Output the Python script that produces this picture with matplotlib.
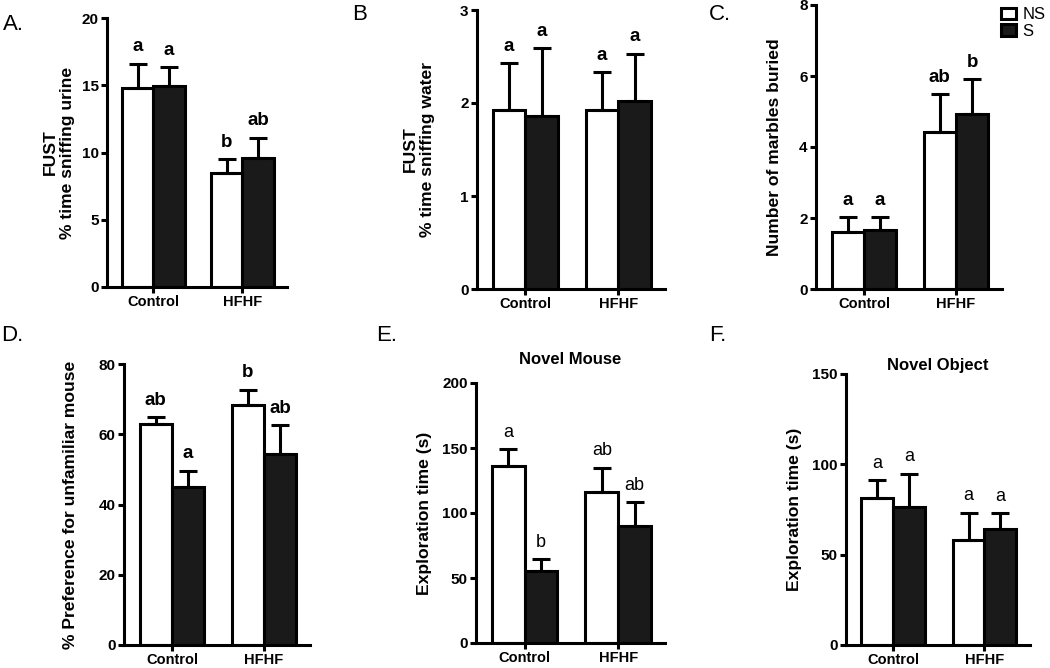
import numpy as np
import matplotlib
matplotlib.use('Agg')
import matplotlib.pyplot as plt
from matplotlib.patches import Patch

plt.rcParams['font.family'] = ['Liberation Sans', 'DejaVu Sans']

groups = ['Control', 'HFHF']

# A. FUST urine
a_ns = [14.8, 8.5]
a_ns_err = [1.8, 1.0]
a_s = [14.95, 9.6]
a_s_err = [1.4, 1.5]
a_ns_let = ['a', 'b']
a_s_let = ['a', 'ab']

# B. FUST water
b_ns = [1.93, 1.92]
b_ns_err = [0.50, 0.41]
b_s = [1.86, 2.02]
b_s_err = [0.73, 0.51]
b_ns_let = ['a', 'a']
b_s_let = ['a', 'a']

# C. marbles
c_ns = [1.6, 4.42]
c_ns_err = [0.42, 1.06]
c_s = [1.65, 4.93]
c_s_err = [0.38, 0.99]
c_ns_let = ['a', 'ab']
c_s_let = ['a', 'b']

# D. preference
d_ns = [62.8, 68.3]
d_ns_err = [2.0, 4.4]
d_s = [45.0, 54.5]
d_s_err = [4.6, 8.1]
d_ns_let = ['ab', 'b']
d_s_let = ['a', 'ab']

# E. novel mouse
e_ns = [136.5, 116.0]
e_ns_err = [12.5, 19.0]
e_s = [55.5, 89.7]
e_s_err = [9.0, 18.5]
e_ns_let = ['a', 'ab']
e_s_let = ['b', 'ab']

# F. novel object
f_ns = [81.3, 58.2]
f_ns_err = [10.0, 15.0]
f_s = [76.6, 64.3]
f_s_err = [18.3, 8.7]
f_ns_let = ['a', 'a']
f_s_let = ['a', 'a']

W, H = 1050, 668
fig = plt.figure(figsize=(W / 100, H / 100), dpi=100)

LW = 2.2
BLACK = '#1a1a1a'
bw = 0.35


def panel(box, ns, ns_err, s, s_err, ns_let, s_let, ymax, ystep, ylabel,
          lab_right, letter, letter_xy, title=None, title_pad=14, bold_letters=True):
    left, top, right, bottom = box
    ax = fig.add_axes([left / W, 1 - bottom / H, (right - left) / W, (bottom - top) / H])
    x = np.arange(len(groups))
    ax.bar(x - bw / 2, ns, bw, color='white', edgecolor='black', linewidth=LW, zorder=2)
    ax.bar(x + bw / 2, s, bw, color=BLACK, edgecolor='black', linewidth=LW, zorder=2)
    for xs, m, e in [(x - bw / 2, ns, ns_err), (x + bw / 2, s, s_err)]:
        ax.errorbar(xs, m, yerr=[np.zeros(len(m)), e], fmt='none', ecolor='black',
                    elinewidth=LW, capsize=6.5, capthick=LW, zorder=3, clip_on=False)
    lets = [(x - bw / 2, ns, ns_err, ns_let), (x + bw / 2, s, s_err, s_let)]
    for xs, m, e, l in lets:
        for xi, mi, ei, li in zip(xs, m, e, l):
            ax.annotate(li, (xi, mi + ei), xytext=(0, 6), textcoords='offset points',
                        ha='center', va='bottom',
                        fontsize=13.5 if bold_letters else 13,
                        fontweight='bold' if bold_letters else 'normal')
    ax.set_xlim(-0.52, 1.5)
    ax.set_ylim(0, ymax)
    ticks = np.arange(0, ymax + ystep / 2, ystep)
    ax.set_yticks(ticks)
    ax.set_yticklabels([f'{v:g}' for v in ticks])
    ax.set_xticks(x)
    ax.set_xticklabels(groups)
    for sp in ['top', 'right']:
        ax.spines[sp].set_visible(False)
    for sp in ['left', 'bottom']:
        ax.spines[sp].set_linewidth(LW)
    ax.tick_params(direction='out', length=4, width=LW, pad=2)
    ax.tick_params(axis='x', labelsize=10.5)
    ax.tick_params(axis='y', labelsize=11)
    for t in ax.get_xticklabels() + ax.get_yticklabels():
        t.set_fontweight('bold')
    ax.set_ylabel(ylabel, fontsize=12.6, fontweight='bold', multialignment='center')
    ax.yaxis.set_label_coords((lab_right - left) / (right - left), 0.5)
    if title:
        ax.set_title(title, fontsize=12, fontweight='bold', pad=title_pad)
    fig.text(letter_xy[0] / W, 1 - letter_xy[1] / H, letter, fontsize=16,
             ha='left', va='top')
    return ax


panel((107, 18, 287, 287), a_ns, a_ns_err, a_s, a_s_err, a_ns_let, a_s_let,
      20, 5, 'FUST\n% time sniffing urine', 75, 'A.', (3, 14))
panel((477, 10, 665, 289), b_ns, b_ns_err, b_s, b_s_err, b_ns_let, b_s_let,
      3, 1, 'FUST\n% time sniffing water', 435, 'B', (352, 4))
panel((816, 5, 1002, 289), c_ns, c_ns_err, c_s, c_s_err, c_ns_let, c_s_let,
      8, 2, 'Number of marbles buried', 782, 'C.', (709, 4))
panel((124, 364, 310, 645), d_ns, d_ns_err, d_s, d_s_err, d_ns_let, d_s_let,
      80, 20, '% Preference for unfamiliar mouse', 78, 'D.', (1, 325))
panel((476, 383, 665, 643), e_ns, e_ns_err, e_s, e_s_err, e_ns_let, e_s_let,
      200, 50, 'Exploration time (s)', 432, 'E.', (376, 325),
      title='Novel Mouse', title_pad=14, bold_letters=False)
panel((846, 374, 1030, 645), f_ns, f_ns_err, f_s, f_s_err, f_ns_let, f_s_let,
      150, 50, 'Exploration time (s)', 802, 'F.', (709, 325),
      title='Novel Object', title_pad=3, bold_letters=False)

handles = [Patch(facecolor='white', edgecolor='black', linewidth=LW),
           Patch(facecolor=BLACK, edgecolor='black', linewidth=LW)]
fig.legend(handles, ['NS', 'S'], loc='upper left', bbox_to_anchor=(998 / W, 1 - 4 / H),
           frameon=False, fontsize=12, handlelength=0.85, handleheight=0.7,
           handletextpad=0.4, labelspacing=0.1, borderpad=0.2, borderaxespad=0)

fig.savefig('out.png', dpi=100)
